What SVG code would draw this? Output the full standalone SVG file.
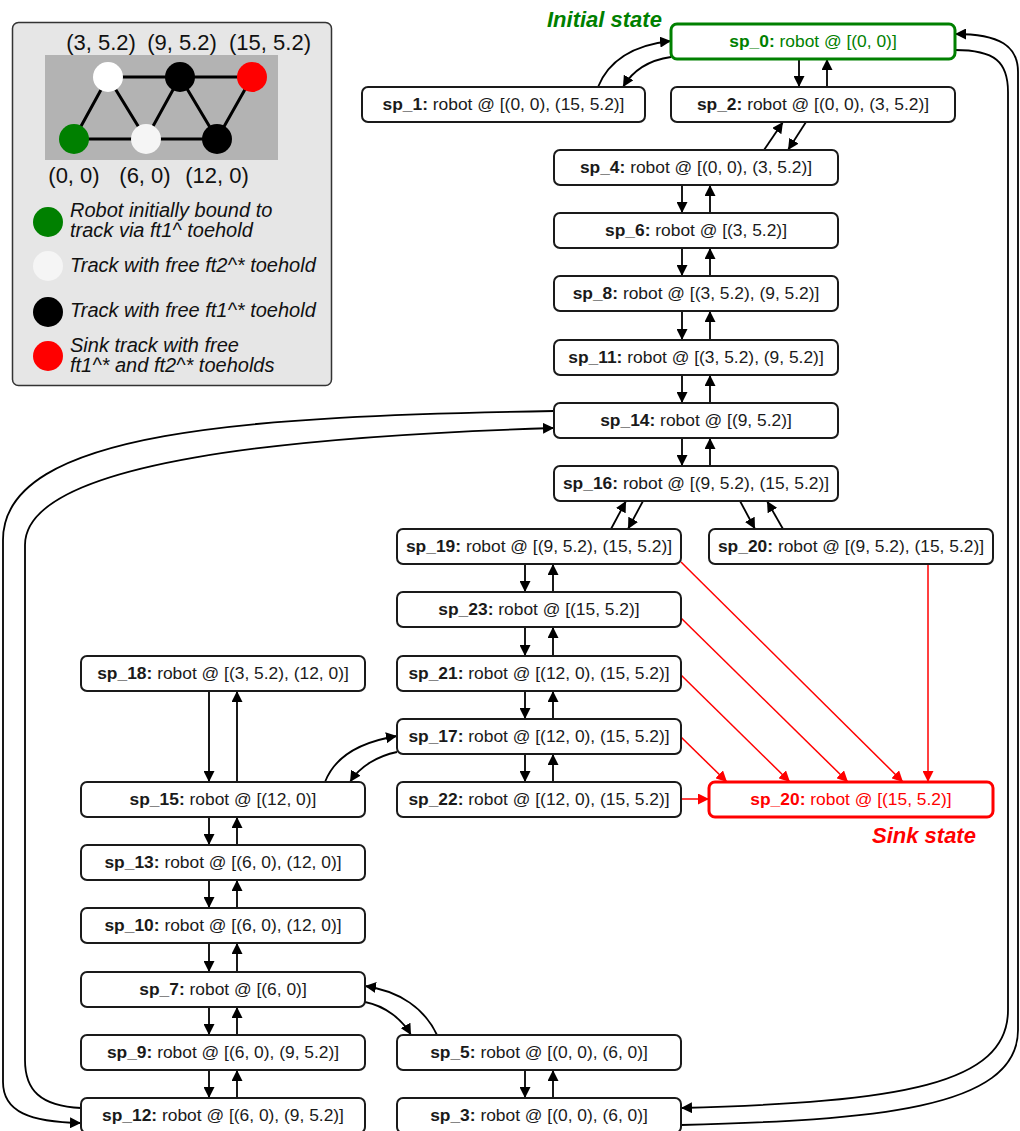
<svg xmlns="http://www.w3.org/2000/svg" width="1020" height="1131" viewBox="0 0 1020 1131">
<defs>
<style>
.n{fill:#fff;stroke:#1a1a1a;stroke-width:2}
.t{font-family:"Liberation Sans",Arial,sans-serif;font-size:17.4px;fill:#1a1a1a;text-anchor:middle}
.b{font-weight:bold}
.e{fill:none;stroke:#000;stroke-width:1.8}
.r{fill:none;stroke:#ff0000;stroke-width:1.5}
.lg{font-family:"Liberation Sans",Arial,sans-serif;font-size:20px;font-style:italic;fill:#111}
.co{font-family:"Liberation Sans",Arial,sans-serif;font-size:22px;fill:#111;text-anchor:middle}
</style>
<marker id="a" viewBox="0 0 10 10" refX="10" refY="5" markerWidth="11" markerHeight="11" markerUnits="userSpaceOnUse" orient="auto"><path d="M0,0 L10,5 L0,10 z" fill="#000"/></marker>
<marker id="ar" viewBox="0 0 10 10" refX="10" refY="5" markerWidth="11" markerHeight="11" markerUnits="userSpaceOnUse" orient="auto"><path d="M0,0 L10,5 L0,10 z" fill="#ff0000"/></marker>
</defs>

<g id="legend">
<rect x="12.5" y="22.5" width="319" height="363" rx="6" fill="#e6e6e6" stroke="#333" stroke-width="1.5"/>
<rect x="45" y="55" width="233" height="105" fill="#b3b3b3"/>
<g stroke="#000" stroke-width="3">
<line x1="108" y1="77" x2="252" y2="77"/>
<line x1="74" y1="139" x2="217" y2="139"/>
<polyline points="74,139 108,77 146,139 180,77 217,139 252,77" fill="none"/>
</g>
<circle cx="108" cy="77" r="15" fill="#fff"/>
<circle cx="180" cy="77" r="15" fill="#000"/>
<circle cx="252" cy="77" r="15" fill="#ff0000"/>
<circle cx="74" cy="139" r="15" fill="#008000"/>
<circle cx="146" cy="139" r="15" fill="#f5f5f5"/>
<circle cx="217" cy="139" r="15" fill="#000"/>
<text class="co" x="101" y="50">(3, 5.2)</text>
<text class="co" x="182" y="50">(9, 5.2)</text>
<text class="co" x="270" y="50">(15, 5.2)</text>
<text class="co" x="74" y="183">(0, 0)</text>
<text class="co" x="145" y="183">(6, 0)</text>
<text class="co" x="217" y="183">(12, 0)</text>
<circle cx="48" cy="222" r="15" fill="#008000"/>
<circle cx="48" cy="266" r="15" fill="#f5f5f5"/>
<circle cx="48" cy="312" r="15" fill="#000"/>
<circle cx="48" cy="356" r="15" fill="#ff0000"/>
<text class="lg" x="70" y="217">Robot initially bound to</text>
<text class="lg" x="70" y="237">track via ft1^ toehold</text>
<text class="lg" x="70" y="272">Track with free ft2^* toehold</text>
<text class="lg" x="70" y="317">Track with free ft1^* toehold</text>
<text class="lg" x="70" y="352">Sink track with free</text>
<text class="lg" x="70" y="372">ft1^* and ft2^* toeholds</text>
</g>

<text x="547" y="27" font-family="Liberation Sans,Arial,sans-serif" font-size="22" font-weight="bold" font-style="italic" fill="#008000">Initial state</text>
<text x="872" y="843" font-family="Liberation Sans,Arial,sans-serif" font-size="22" font-weight="bold" font-style="italic" fill="#ff0000">Sink state</text>

<g id="connectors">
<line class="e" x1="799" y1="59" x2="799" y2="87" marker-end="url(#a)"/>
<line class="e" x1="827" y1="87" x2="827" y2="59" marker-end="url(#a)"/>
<path class="e" d="M598,87 C608,62 632,45 671,41" marker-end="url(#a)"/>
<path class="e" d="M671,57 C650,60 633,70 623,87" marker-end="url(#a)"/>
<line class="e" x1="764" y1="150" x2="783" y2="122" marker-end="url(#a)"/>
<line class="e" x1="806" y1="122" x2="788" y2="150" marker-end="url(#a)"/>
<line class="e" x1="682" y1="185" x2="682" y2="213" marker-end="url(#a)"/>
<line class="e" x1="710" y1="213" x2="710" y2="185" marker-end="url(#a)"/>
<line class="e" x1="682" y1="248" x2="682" y2="276" marker-end="url(#a)"/>
<line class="e" x1="710" y1="276" x2="710" y2="248" marker-end="url(#a)"/>
<line class="e" x1="682" y1="311" x2="682" y2="340" marker-end="url(#a)"/>
<line class="e" x1="710" y1="340" x2="710" y2="311" marker-end="url(#a)"/>
<line class="e" x1="682" y1="375" x2="682" y2="403" marker-end="url(#a)"/>
<line class="e" x1="710" y1="403" x2="710" y2="375" marker-end="url(#a)"/>
<line class="e" x1="682" y1="438" x2="682" y2="466" marker-end="url(#a)"/>
<line class="e" x1="710" y1="466" x2="710" y2="438" marker-end="url(#a)"/>
<line class="e" x1="611" y1="529" x2="626" y2="501" marker-end="url(#a)"/>
<line class="e" x1="643" y1="501" x2="628" y2="529" marker-end="url(#a)"/>
<line class="e" x1="740" y1="501" x2="755" y2="529" marker-end="url(#a)"/>
<line class="e" x1="783" y1="529" x2="767" y2="501" marker-end="url(#a)"/>
<line class="e" x1="525" y1="564" x2="525" y2="592" marker-end="url(#a)"/>
<line class="e" x1="553" y1="592" x2="553" y2="564" marker-end="url(#a)"/>
<line class="e" x1="525" y1="627" x2="525" y2="656" marker-end="url(#a)"/>
<line class="e" x1="553" y1="656" x2="553" y2="627" marker-end="url(#a)"/>
<line class="e" x1="525" y1="691" x2="525" y2="719" marker-end="url(#a)"/>
<line class="e" x1="553" y1="719" x2="553" y2="691" marker-end="url(#a)"/>
<line class="e" x1="525" y1="754" x2="525" y2="782" marker-end="url(#a)"/>
<line class="e" x1="553" y1="782" x2="553" y2="754" marker-end="url(#a)"/>
<line class="e" x1="525" y1="1070" x2="525" y2="1098" marker-end="url(#a)"/>
<line class="e" x1="553" y1="1098" x2="553" y2="1070" marker-end="url(#a)"/>
<line class="e" x1="209" y1="691" x2="209" y2="782" marker-end="url(#a)"/>
<line class="e" x1="237" y1="782" x2="237" y2="691" marker-end="url(#a)"/>
<line class="e" x1="209" y1="817" x2="209" y2="845" marker-end="url(#a)"/>
<line class="e" x1="237" y1="845" x2="237" y2="817" marker-end="url(#a)"/>
<line class="e" x1="209" y1="880" x2="209" y2="908" marker-end="url(#a)"/>
<line class="e" x1="237" y1="908" x2="237" y2="880" marker-end="url(#a)"/>
<line class="e" x1="209" y1="943" x2="209" y2="972" marker-end="url(#a)"/>
<line class="e" x1="237" y1="972" x2="237" y2="943" marker-end="url(#a)"/>
<line class="e" x1="209" y1="1007" x2="209" y2="1035" marker-end="url(#a)"/>
<line class="e" x1="237" y1="1035" x2="237" y2="1007" marker-end="url(#a)"/>
<line class="e" x1="209" y1="1070" x2="209" y2="1098" marker-end="url(#a)"/>
<line class="e" x1="237" y1="1098" x2="237" y2="1070" marker-end="url(#a)"/>
<path class="e" d="M325,782 C335,756 360,742 397,736" marker-end="url(#a)"/>
<path class="e" d="M397,752 C378,756 360,766 350,782" marker-end="url(#a)"/>
<path class="e" d="M365,1002 C385,1006 402,1019 411,1035" marker-end="url(#a)"/>
<path class="e" d="M437,1035 C425,1009 400,991 365,986" marker-end="url(#a)"/>
<path class="e" d="M554,411 C250,416 3,430 3,540 L3,1082 C3,1112 30,1122 81,1123" marker-end="url(#a)"/>
<path class="e" d="M81,1108 C40,1106 25,1090 25,1060 L25,545 C25,460 300,436 554,428" marker-end="url(#a)"/>
<path class="e" d="M681,1125 C870,1120 1018,1110 1018,1030 L1018,72 C1018,46 1000,34 955,34" marker-end="url(#a)"/>
<path class="e" d="M955,50 C995,50 1008,62 1008,92 L1008,1010 C1008,1085 900,1102 681,1108" marker-end="url(#a)"/>
<line class="r" x1="681" y1="562" x2="903" y2="782" marker-end="url(#ar)"/>
<line class="r" x1="681" y1="618" x2="848" y2="782" marker-end="url(#ar)"/>
<line class="r" x1="681" y1="675" x2="790" y2="782" marker-end="url(#ar)"/>
<line class="r" x1="681" y1="737" x2="727" y2="782" marker-end="url(#ar)"/>
<line class="r" x1="681" y1="799" x2="709" y2="799" marker-end="url(#ar)"/>
<line class="r" x1="928" y1="564" x2="928" y2="782" marker-end="url(#ar)"/>
</g>

<g id="sp_0"><rect x="671" y="24" width="284" height="35" rx="6" fill="#fff" stroke="#008000" stroke-width="3"/><text class="t" x="813" y="47" style="fill:#008000"><tspan class="b">sp_0:</tspan> robot @ [(0, 0)]</text></g>
<g id="sp_1"><rect class="n" x="362" y="87" width="283" height="35" rx="6"/><text class="t" x="503.5" y="110"><tspan class="b">sp_1:</tspan> robot @ [(0, 0), (15, 5.2)]</text></g>
<g id="sp_2"><rect class="n" x="671" y="87" width="284" height="35" rx="6"/><text class="t" x="813" y="110"><tspan class="b">sp_2:</tspan> robot @ [(0, 0), (3, 5.2)]</text></g>
<g id="sp_4"><rect class="n" x="554" y="150" width="284" height="35" rx="6"/><text class="t" x="696" y="173"><tspan class="b">sp_4:</tspan> robot @ [(0, 0), (3, 5.2)]</text></g>
<g id="sp_6"><rect class="n" x="554" y="213" width="284" height="35" rx="6"/><text class="t" x="696" y="236"><tspan class="b">sp_6:</tspan> robot @ [(3, 5.2)]</text></g>
<g id="sp_8"><rect class="n" x="554" y="276" width="284" height="35" rx="6"/><text class="t" x="696" y="299"><tspan class="b">sp_8:</tspan> robot @ [(3, 5.2), (9, 5.2)]</text></g>
<g id="sp_11"><rect class="n" x="554" y="340" width="284" height="35" rx="6"/><text class="t" x="696" y="363"><tspan class="b">sp_11:</tspan> robot @ [(3, 5.2), (9, 5.2)]</text></g>
<g id="sp_14"><rect class="n" x="554" y="403" width="284" height="35" rx="6"/><text class="t" x="696" y="426"><tspan class="b">sp_14:</tspan> robot @ [(9, 5.2)]</text></g>
<g id="sp_16"><rect class="n" x="554" y="466" width="284" height="35" rx="6"/><text class="t" x="696" y="489"><tspan class="b">sp_16:</tspan> robot @ [(9, 5.2), (15, 5.2)]</text></g>
<g id="sp_19"><rect class="n" x="397" y="529" width="284" height="35" rx="6"/><text class="t" x="539" y="552"><tspan class="b">sp_19:</tspan> robot @ [(9, 5.2), (15, 5.2)]</text></g>
<g id="sp_20a"><rect class="n" x="709" y="529" width="284" height="35" rx="6"/><text class="t" x="851" y="552"><tspan class="b">sp_20:</tspan> robot @ [(9, 5.2), (15, 5.2)]</text></g>
<g id="sp_23"><rect class="n" x="397" y="592" width="284" height="35" rx="6"/><text class="t" x="539" y="615"><tspan class="b">sp_23:</tspan> robot @ [(15, 5.2)]</text></g>
<g id="sp_21"><rect class="n" x="397" y="656" width="284" height="35" rx="6"/><text class="t" x="539" y="679"><tspan class="b">sp_21:</tspan> robot @ [(12, 0), (15, 5.2)]</text></g>
<g id="sp_17"><rect class="n" x="397" y="719" width="284" height="35" rx="6"/><text class="t" x="539" y="742"><tspan class="b">sp_17:</tspan> robot @ [(12, 0), (15, 5.2)]</text></g>
<g id="sp_22"><rect class="n" x="397" y="782" width="284" height="35" rx="6"/><text class="t" x="539" y="805"><tspan class="b">sp_22:</tspan> robot @ [(12, 0), (15, 5.2)]</text></g>
<g id="sp_20_sink"><rect x="709" y="782" width="284" height="35" rx="6" fill="#fff" stroke="#ff0000" stroke-width="3"/><text class="t" x="851" y="805" style="fill:#ff0000"><tspan class="b">sp_20:</tspan> robot @ [(15, 5.2)]</text></g>
<g id="sp_18"><rect class="n" x="81" y="656" width="284" height="35" rx="6"/><text class="t" x="223" y="679"><tspan class="b">sp_18:</tspan> robot @ [(3, 5.2), (12, 0)]</text></g>
<g id="sp_15"><rect class="n" x="81" y="782" width="284" height="35" rx="6"/><text class="t" x="223" y="805"><tspan class="b">sp_15:</tspan> robot @ [(12, 0)]</text></g>
<g id="sp_13"><rect class="n" x="81" y="845" width="284" height="35" rx="6"/><text class="t" x="223" y="868"><tspan class="b">sp_13:</tspan> robot @ [(6, 0), (12, 0)]</text></g>
<g id="sp_10"><rect class="n" x="81" y="908" width="284" height="35" rx="6"/><text class="t" x="223" y="931"><tspan class="b">sp_10:</tspan> robot @ [(6, 0), (12, 0)]</text></g>
<g id="sp_7"><rect class="n" x="81" y="972" width="284" height="35" rx="6"/><text class="t" x="223" y="995"><tspan class="b">sp_7:</tspan> robot @ [(6, 0)]</text></g>
<g id="sp_9"><rect class="n" x="81" y="1035" width="284" height="35" rx="6"/><text class="t" x="223" y="1058"><tspan class="b">sp_9:</tspan> robot @ [(6, 0), (9, 5.2)]</text></g>
<g id="sp_12"><rect class="n" x="81" y="1098" width="284" height="35" rx="6"/><text class="t" x="223" y="1121"><tspan class="b">sp_12:</tspan> robot @ [(6, 0), (9, 5.2)]</text></g>
<g id="sp_5"><rect class="n" x="397" y="1035" width="284" height="35" rx="6"/><text class="t" x="539" y="1058"><tspan class="b">sp_5:</tspan> robot @ [(0, 0), (6, 0)]</text></g>
<g id="sp_3"><rect class="n" x="397" y="1098" width="284" height="35" rx="6"/><text class="t" x="539" y="1121"><tspan class="b">sp_3:</tspan> robot @ [(0, 0), (6, 0)]</text></g>
</svg>
